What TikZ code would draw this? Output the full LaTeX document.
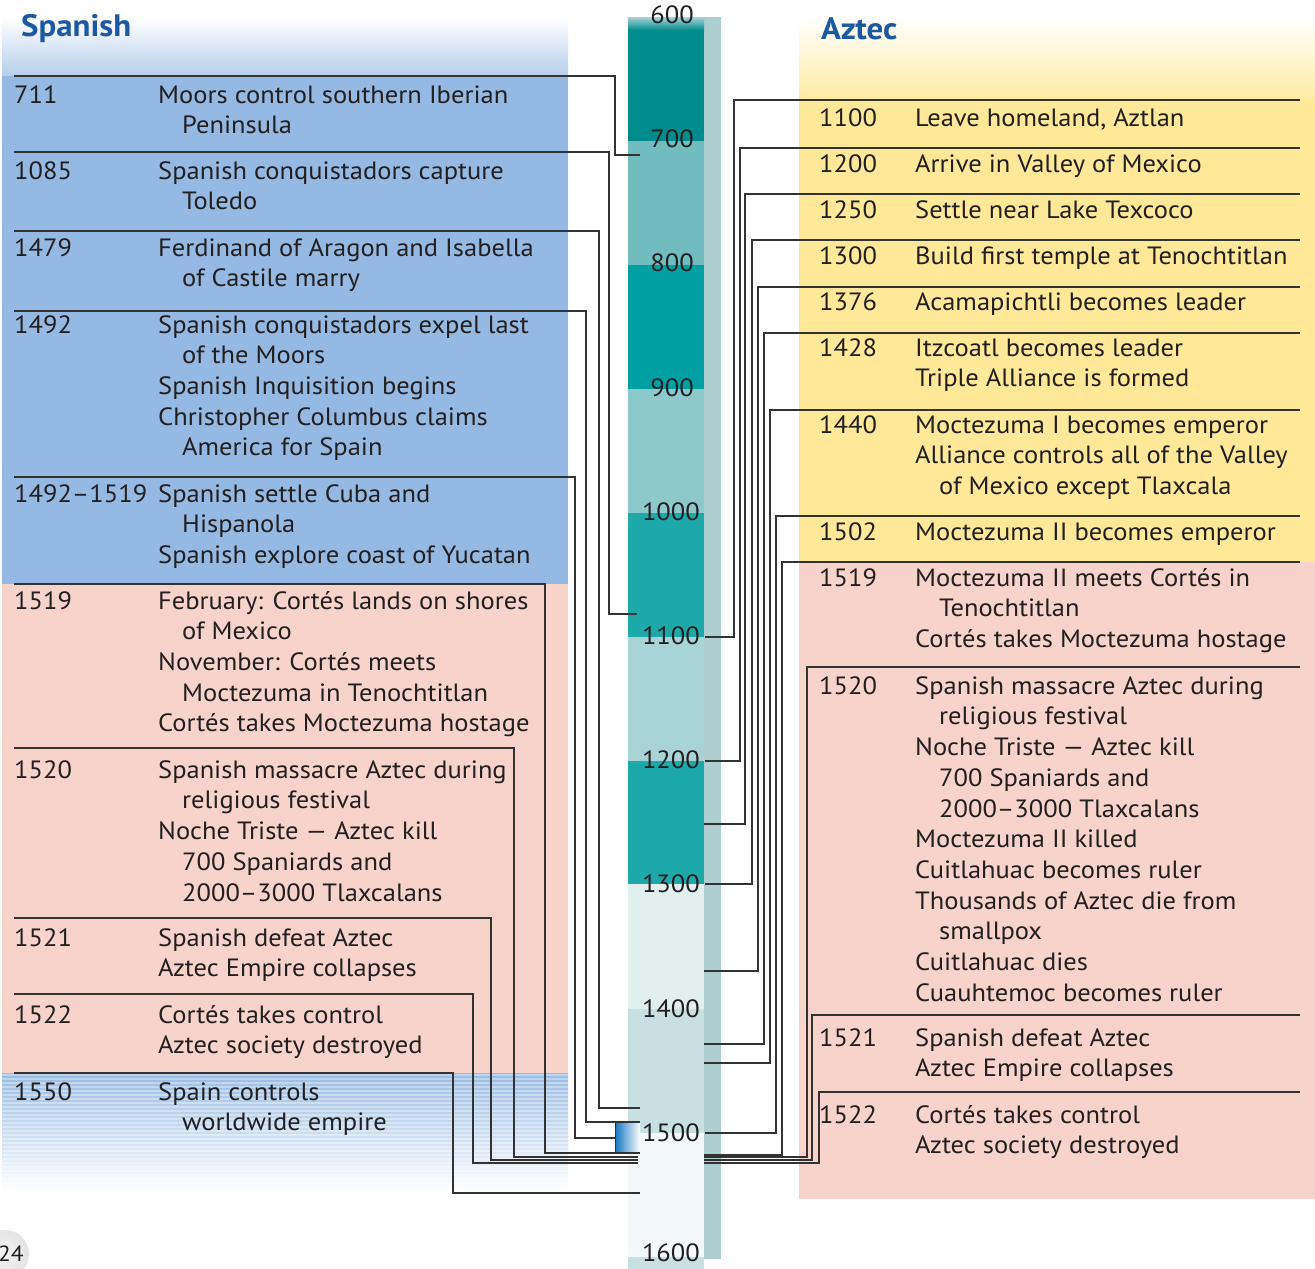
\documentclass[tikz,border=0pt]{standalone}
\usepackage{fontspec}
\setmainfont{PT Sans}[FakeStretch=1.06]
\definecolor{txt}{HTML}{231F20}
\definecolor{spblue}{HTML}{94B9E3}
\definecolor{sphead}{HTML}{B7CEEC}
\definecolor{pinkc}{HTML}{F8D3CC}
\definecolor{yel}{HTML}{FFE998}
\definecolor{yelhead}{HTML}{FFEBA2}
\definecolor{hblue}{HTML}{1B5AA0}
\definecolor{lnc}{HTML}{333333}
\definecolor{strip}{HTML}{AECFD0}
\definecolor{sA}{HTML}{008C8C}
\definecolor{sB}{HTML}{70BCBF}
\definecolor{sC}{HTML}{009FA2}
\definecolor{sD}{HTML}{8DC8CA}
\definecolor{sE}{HTML}{1DA8AA}
\definecolor{sF}{HTML}{A8D4D6}
\definecolor{sG}{HTML}{E2EFEF}
\definecolor{sH}{HTML}{C8E0E2}
\definecolor{sI}{HTML}{F3F8F8}
\definecolor{boxblue}{HTML}{1C7BC4}
\newcommand\ind{\hspace*{24pt}}
\newcommand\evfont{\fontsize{25}{30.7}\selectfont\color{txt}}
\begin{document}
\begin{tikzpicture}[x=1pt,y=-1pt,
  ev/.style={anchor=north west, inner sep=0pt, align=left, font=\evfont},
  tl/.style={anchor=east, inner sep=0pt, font=\fontsize{25}{30}\selectfont\color{txt}},
  hd/.style={anchor=west, inner sep=0pt, font=\fontsize{31}{34}\selectfont\bfseries\color{hblue}},
  conn/.style={draw=lnc, line width=1.3pt}]
\useasboundingbox (0,0) rectangle (1315,1269);
\fill[white] (0,0) rectangle (1315,1269);
% ---------- left panel backgrounds
\shade[top color=white, bottom color=sphead] (2,17) rectangle (568,76);
\fill[spblue] (2,76) rectangle (568,584);
\fill[pinkc] (2,584) rectangle (568,1073);
\shade[top color=spblue!95, bottom color=white] (2,1073) rectangle (568,1192);
\foreach \yy in {1075,1079,...,1191} \draw[white, opacity=0.35, line width=1.4pt] (2,\yy) -- (568,\yy);
% ---------- right panel backgrounds
\shade[top color=white, bottom color=yelhead] (799,17) rectangle (1315,100);
\fill[yel] (799,100) rectangle (1315,562);
\fill[pinkc] (799,562) rectangle (1315,1199);
% ---------- timeline bar
\fill[strip] (704,17) rectangle (721,1259);
\shade[top color=sF, bottom color=sA] (628,17) rectangle (704,30);
\fill[sA] (628,30) rectangle (704,141);
\fill[sB] (628,141) rectangle (704,265);
\fill[sC] (628,265) rectangle (704,389);
\fill[sD] (628,389) rectangle (704,513);
\fill[sE] (628,513) rectangle (704,637);
\fill[sF] (628,637) rectangle (704,761);
\fill[sE] (628,761) rectangle (704,884);
\fill[sG] (628,884) rectangle (704,1009);
\fill[sH] (628,1009) rectangle (704,1133);
\fill[sI] (628,1133) rectangle (704,1257);
\fill[sH] (628,1257) rectangle (704,1269);
% timeline labels
\node[tl] (t600) at (694,15) {600};
\node[tl] (t700) at (694,139) {700};
\node[tl] (t800) at (694,263) {800};
\node[tl] (t900) at (694,388) {900};
\node[tl] (t1000) at (700,512) {1000};
\node[tl] (t1100) at (700,636) {1100};
\node[tl] (t1200) at (700,760) {1200};
\node[tl] (t1300) at (700,884) {1300};
\node[tl] (t1400) at (700,1009) {1400};
\node[tl] (t1500) at (700,1133) {1500};
\node[tl] (t1600) at (700,1253) {1600};
% blue marker box
\shade[left color=boxblue, right color=white] (616,1122) rectangle (640,1153);
\node[inner sep=0pt, minimum width=24pt, minimum height=31pt] (mbox) at (628,1137.5) {};
% ---------- headers
\node[hd] (hsp) at (21,29) {Spanish};
\node[hd] (haz) at (821,29) {Aztec};
% ---------- left events
\node[ev] (ly711) at (14,81.5) {\strut 711};
\node[ev] (ld711) at (158,81.5) {\strut Moors control southern Iberian\\\ind\strut Peninsula};
\node[ev] (ly1085) at (14,157.5) {\strut 1085};
\node[ev] (ld1085) at (158,157.5) {\strut Spanish conquistadors capture\\\ind\strut Toledo};
\node[ev] (ly1479) at (14,234.5) {\strut 1479};
\node[ev] (ld1479) at (158,234.5) {\strut Ferdinand of Aragon and Isabella\\\ind\strut of Castile marry};
\node[ev] (ly1492) at (14,311.5) {\strut 1492};
\node[ev] (ld1492) at (158,311.5) {\strut Spanish conquistadors expel last\\\ind\strut of the Moors\\\strut Spanish Inquisition begins\\\strut Christopher Columbus claims\\\ind\strut America for Spain};
\node[ev] (ly1492b) at (14,480.5) {\strut 1492–1519};
\node[ev] (ld1492b) at (158,480.5) {\strut Spanish settle Cuba and\\\ind\strut Hispanola\\\strut Spanish explore coast of Yucatan};
\node[ev] (ly1519) at (14,587.5) {\strut 1519};
\node[ev] (ld1519) at (158,587.5) {\strut February: Cortés lands on shores\\\ind\strut of Mexico\\\strut November: Cortés meets\\\ind\strut Moctezuma in Tenochtitlan\\\strut Cortés takes Moctezuma hostage};
\node[ev] (ly1520) at (14,756.5) {\strut 1520};
\node[ev] (ld1520) at (158,756.5) {\strut Spanish massacre Aztec during\\\ind\strut religious festival\\\strut Noche Triste — Aztec kill\\\ind\strut 700 Spaniards and\\\ind\strut 2000–3000 Tlaxcalans};
\node[ev] (ly1521) at (14,924.5) {\strut 1521};
\node[ev] (ld1521) at (158,924.5) {\strut Spanish defeat Aztec\\\strut Aztec Empire collapses};
\node[ev] (ly1522) at (14,1001.5) {\strut 1522};
\node[ev] (ld1522) at (158,1001.5) {\strut Cortés takes control\\\strut Aztec society destroyed};
\node[ev] (ly1550) at (14,1078.5) {\strut 1550};
\node[ev] (ld1550) at (158,1078.5) {\strut Spain controls\\\ind\strut worldwide empire};
% ---------- right events
\node[ev] (ry1100) at (819,104.5) {\strut 1100};
\node[ev] (rd1100) at (915,104.5) {\strut Leave homeland, Aztlan};
\node[ev] (ry1200) at (819,150.5) {\strut 1200};
\node[ev] (rd1200) at (915,150.5) {\strut Arrive in Valley of Mexico};
\node[ev] (ry1250) at (819,196.5) {\strut 1250};
\node[ev] (rd1250) at (915,196.5) {\strut Settle near Lake Texcoco};
\node[ev] (ry1300) at (819,242.5) {\strut 1300};
\node[ev] (rd1300) at (915,242.5) {\strut Build first temple at Tenochtitlan};
\node[ev] (ry1376) at (819,288.5) {\strut 1376};
\node[ev] (rd1376) at (915,288.5) {\strut Acamapichtli becomes leader};
\node[ev] (ry1428) at (819,334.5) {\strut 1428};
\node[ev] (rd1428) at (915,334.5) {\strut Itzcoatl becomes leader\\\strut Triple Alliance is formed};
\node[ev] (ry1440) at (819,411.5) {\strut 1440};
\node[ev] (rd1440) at (915,411.5) {\strut Moctezuma I becomes emperor\\\strut Alliance controls all of the Valley\\\ind\strut of Mexico except Tlaxcala};
\node[ev] (ry1502) at (819,518.5) {\strut 1502};
\node[ev] (rd1502) at (915,518.5) {\strut Moctezuma II becomes emperor};
\node[ev] (ry1519) at (819,564.5) {\strut 1519};
\node[ev] (rd1519) at (915,564.5) {\strut Moctezuma II meets Cortés in\\\ind\strut Tenochtitlan\\\strut Cortés takes Moctezuma hostage};
\node[ev] (ry1520) at (819,672.5) {\strut 1520};
\node[ev] (rd1520) at (915,672.5) {\strut Spanish massacre Aztec during\\\ind\strut religious festival\\\strut Noche Triste — Aztec kill\\\ind\strut 700 Spaniards and\\\ind\strut 2000–3000 Tlaxcalans\\\strut Moctezuma II killed\\\strut Cuitlahuac becomes ruler\\\strut Thousands of Aztec die from\\\ind\strut smallpox\\\strut Cuitlahuac dies\\\strut Cuauhtemoc becomes ruler};
\node[ev] (ry1521) at (819,1024.5) {\strut 1521};
\node[ev] (rd1521) at (915,1024.5) {\strut Spanish defeat Aztec\\\strut Aztec Empire collapses};
\node[ev] (ry1522) at (819,1101.5) {\strut 1522};
\node[ev] (rd1522) at (915,1101.5) {\strut Cortés takes control\\\strut Aztec society destroyed};
% ---------- left connectors
\foreach \n/\ys/\xv/\ye/\xe in {
  711/76/615/155/640,
  1085/152/609/614/637,
  1479/231/599/1108/640,
  1492/311/586/1122/640,
  1492b/477/575/1138/616,
  1519/584/545/1153/640,
  1520/748/514/1157/638,
  1521/918/491/1160/638,
  1522/994/473/1163/638,
  1550/1073/453/1193/640}{
  \coordinate (ls\n) at (14,\ys);
  \coordinate (lv\n) at (\xv,\ye);
  \coordinate (le\n) at (\xe,\ye);
  \draw[conn] (ls\n) -| (lv\n) -- (le\n);
}
\draw[conn] (mbox.north west) -- (mbox.south west);
% ---------- right connectors
\foreach \n/\ys/\xv/\ye/\xe in {
  1100/100/734/637/705,
  1200/148/740/761/705,
  1250/194/745/824/704,
  1300/240/752/884/705,
  1376/287/758/971/704,
  1428/333/764/1044/704,
  1440/410/770/1063/704,
  1502/516/776/1133/705,
  1519/562/782/1155/704,
  1520/667/807/1157/704,
  1521/1015/812/1160/704,
  1522/1092/819/1163/704}{
  \coordinate (rs\n) at (1300,\ys);
  \coordinate (rv\n) at (\xv,\ye);
  \coordinate (re\n) at (\xe,\ye);
  \draw[conn] (rs\n) -| (rv\n) -- (re\n);
}
% ---------- page number
\shade[inner color=gray!8, outer color=gray!22] (5,1254) circle (24);
\node[anchor=west, inner sep=0pt, font=\fontsize{22}{24}\selectfont\color{txt}] (pg) at (-2,1254) {24};
\end{tikzpicture}
\end{document}
